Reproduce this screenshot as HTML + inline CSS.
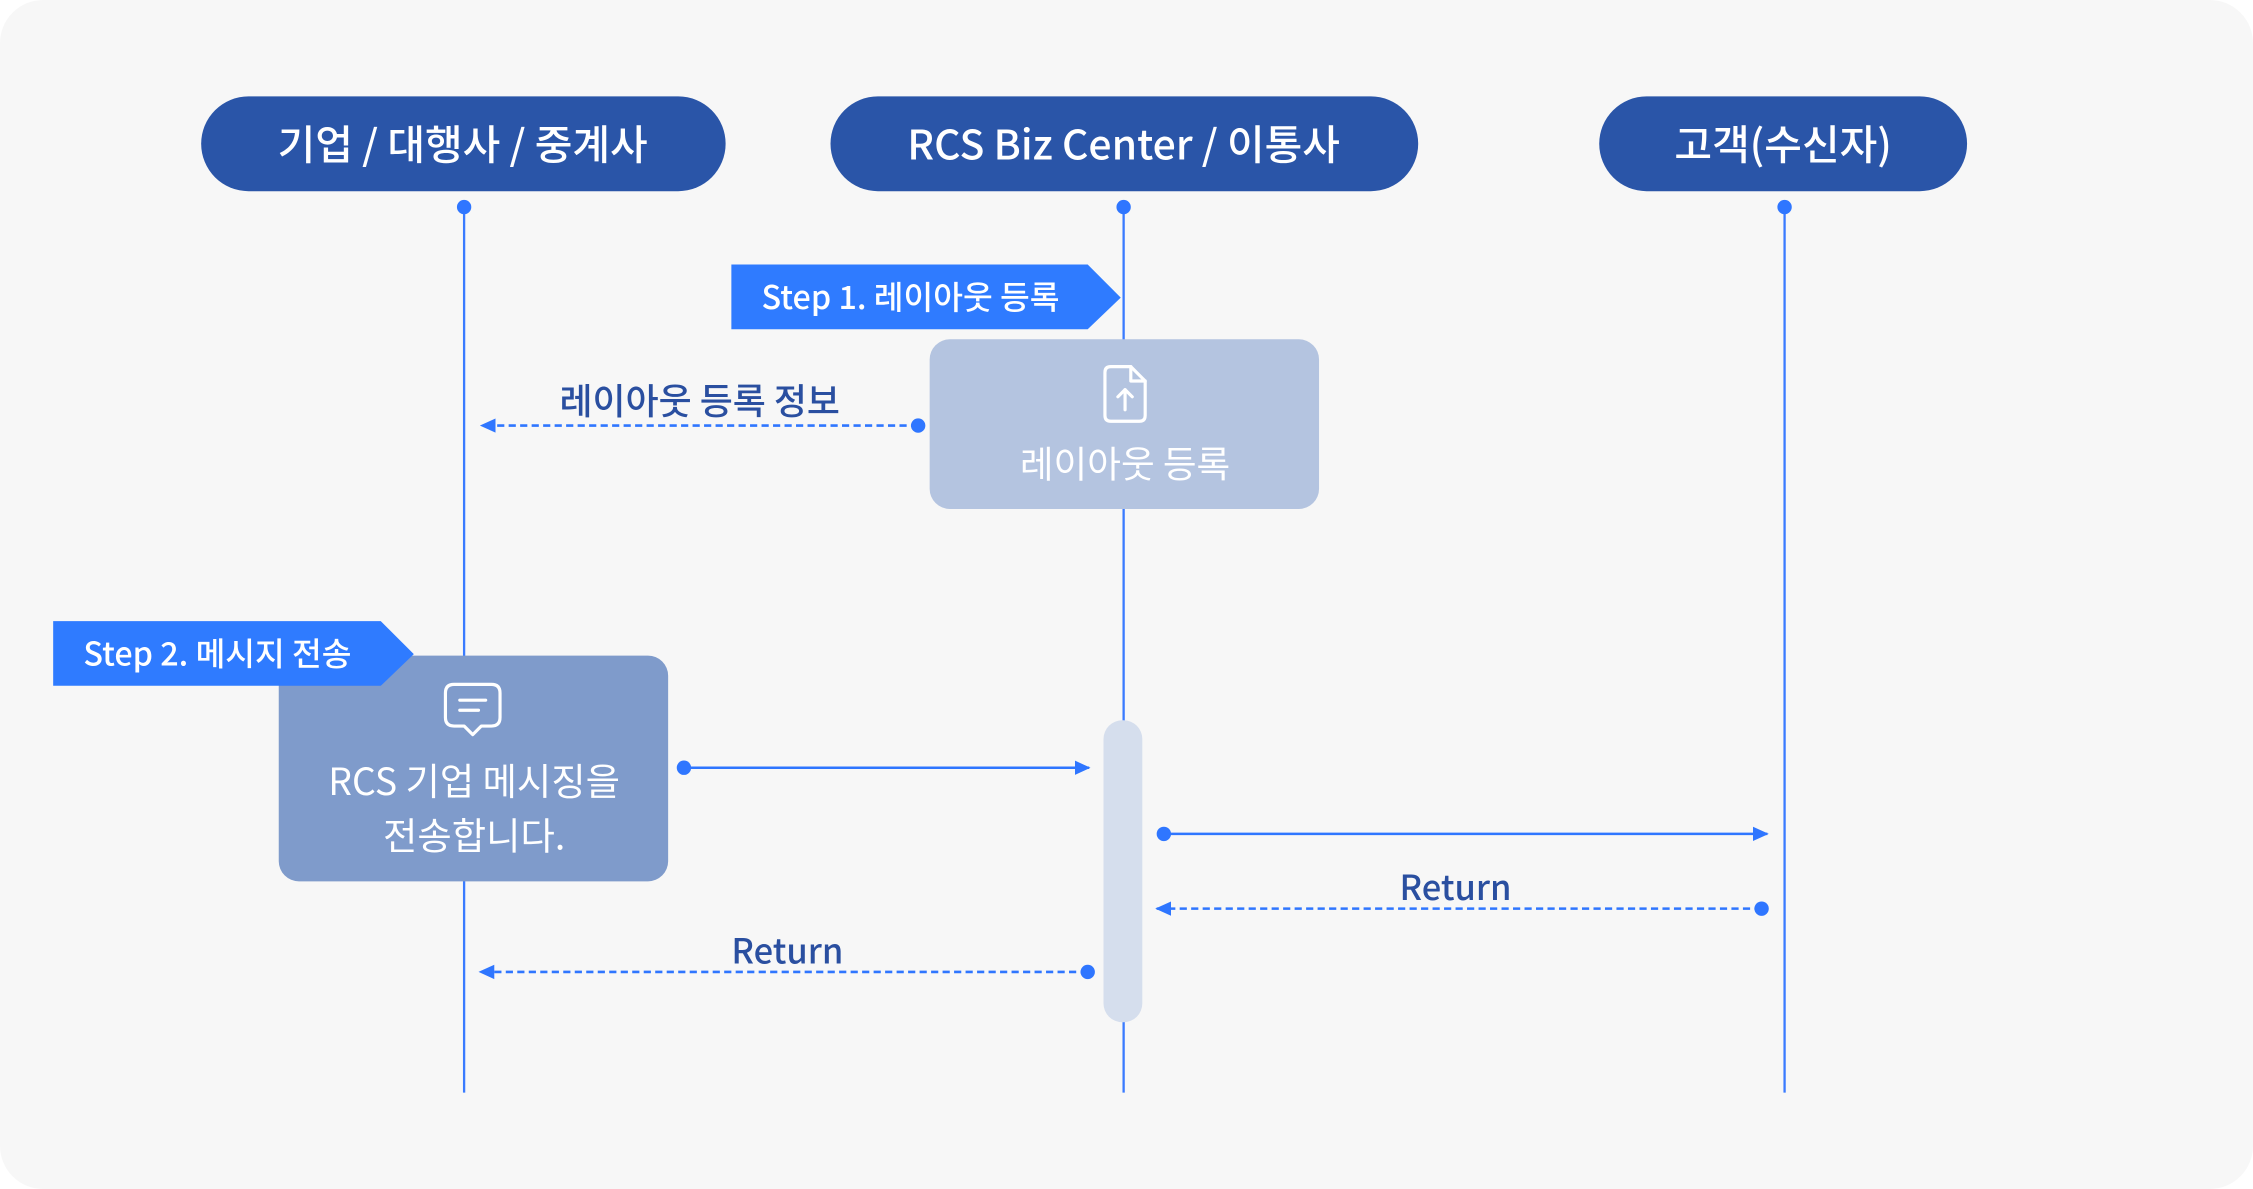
<!DOCTYPE html>
<html><head><meta charset="utf-8">
<style>
html,body{margin:0;padding:0;background:#fff;}
svg{display:block;}
text{font-family:"Noto Sans CJK KR","Liberation Sans",sans-serif;}
</style></head>
<body>
<svg width="2253" height="1189" viewBox="0 0 1568 827" preserveAspectRatio="none" xmlns="http://www.w3.org/2000/svg">
<defs>
<marker id="ah" markerWidth="11" markerHeight="11" refX="10" refY="5.5" orient="auto" markerUnits="userSpaceOnUse">
<path d="M0,0.5 L11,5.5 L0,10.5 Z" fill="#2f76ff"/>
</marker>
</defs>
<rect x="0" y="0" width="1568" height="827" rx="30" fill="#f7f7f7"/>

<!-- headers -->
<rect x="140" y="67" width="365" height="66" rx="33" fill="#2a55a8"/>
<text x="322" y="111" font-size="28.5" fill="#fff" text-anchor="middle" font-weight="500">기업 / 대행사 / 중계사</text>
<rect x="578" y="67" width="409" height="66" rx="33" fill="#2a55a8"/>
<text x="782" y="111" font-size="28.5" fill="#fff" text-anchor="middle" font-weight="500">RCS Biz Center / 이통사</text>
<rect x="1113" y="67" width="256" height="66" rx="33" fill="#2a55a8"/>
<text x="1241" y="111" font-size="28.5" fill="#fff" text-anchor="middle" font-weight="500">고객(수신자)</text>

<!-- lifelines -->
<g stroke="#3a7bff" stroke-width="1.6">
<line x1="323" y1="144" x2="323" y2="760"/>
<line x1="782" y1="144" x2="782" y2="760"/>
<line x1="1242" y1="144" x2="1242" y2="760"/>
</g>
<g fill="#2f76ff">
<circle cx="323" cy="144" r="5"/><circle cx="782" cy="144" r="5"/><circle cx="1242" cy="144" r="5"/>
</g>

<!-- step 1 -->
<path d="M509,184 L757,184 L780,207 L757,229 L509,229 Z" fill="#2f7bff"/>
<text x="530" y="215" font-size="22.5" fill="#fff" font-weight="500">Step 1. 레이아웃 등록</text>

<!-- box 1 -->
<rect x="647" y="236" width="271" height="118" rx="14" fill="#b4c4e0"/>
<g stroke="#fff" stroke-width="2.2" fill="none" stroke-linecap="round" stroke-linejoin="round">
<path d="M773,255 L787,255 L797,265 L797,289 Q797,293 793,293 L773,293 Q769,293 769,289 L769,259 Q769,255 773,255 Z"/>
<path d="M787,255 L787,265 L797,265"/>
<path d="M783,285 L783,271 M778,276 L783,271 L788,276"/>
</g>
<text x="783" y="332" font-size="25.5" fill="#fff" text-anchor="middle">레이아웃 등록</text>

<!-- dashed 1 -->
<line x1="639" y1="296" x2="335" y2="296" stroke="#2f76ff" stroke-width="1.8" stroke-dasharray="5,3" marker-end="url(#ah)"/>
<circle cx="639" cy="296" r="5" fill="#2f76ff"/>
<text x="487" y="288" font-size="25" fill="#2a4fa0" text-anchor="middle" font-weight="500">레이아웃 등록 정보</text>

<!-- step 2 box -->
<rect x="194" y="456" width="271" height="157" rx="14" fill="#7f9bcb"/>
<path d="M37,432 L265,432 L288,455 L265,477 L37,477 Z" fill="#2f7bff"/>
<text x="58" y="463" font-size="22.5" fill="#fff" font-weight="500">Step 2. 메시지 전송</text>
<g stroke="#fff" stroke-width="2.2" fill="none" stroke-linecap="round" stroke-linejoin="round">
<path d="M316,476 L342,476 Q348,476 348,482 L348,499 Q348,505 342,505 L335,505 L329,511 L323,505 L316,505 Q310,505 310,499 L310,482 Q310,476 316,476 Z"/>
<path d="M320,487 L338,487 M320,494 L333,494"/>
</g>
<text x="330" y="553" font-size="26" fill="#fff" text-anchor="middle">RCS 기업 메시징을</text>
<text x="330" y="591" font-size="26" fill="#fff" text-anchor="middle">전송합니다.</text>

<!-- activation -->
<rect x="768" y="501" width="27" height="210" rx="13" fill="#d5deed"/>

<!-- arrows -->
<line x1="476" y1="534" x2="758" y2="534" stroke="#2f76ff" stroke-width="1.8" marker-end="url(#ah)"/>
<circle cx="476" cy="534" r="5" fill="#2f76ff"/>
<line x1="810" y1="580" x2="1230" y2="580" stroke="#2f76ff" stroke-width="1.8" marker-end="url(#ah)"/>
<circle cx="810" cy="580" r="5" fill="#2f76ff"/>

<line x1="1226" y1="632" x2="805" y2="632" stroke="#2f76ff" stroke-width="1.8" stroke-dasharray="5,3" marker-end="url(#ah)"/>
<circle cx="1226" cy="632" r="5" fill="#2f76ff"/>
<text x="1013" y="626" font-size="24" fill="#2a4fa0" text-anchor="middle" font-weight="500">Return</text>

<line x1="757" y1="676" x2="334" y2="676" stroke="#2f76ff" stroke-width="1.8" stroke-dasharray="5,3" marker-end="url(#ah)"/>
<circle cx="757" cy="676" r="5" fill="#2f76ff"/>
<text x="548" y="670" font-size="24" fill="#2a4fa0" text-anchor="middle" font-weight="500">Return</text>
</svg>
</body></html>
